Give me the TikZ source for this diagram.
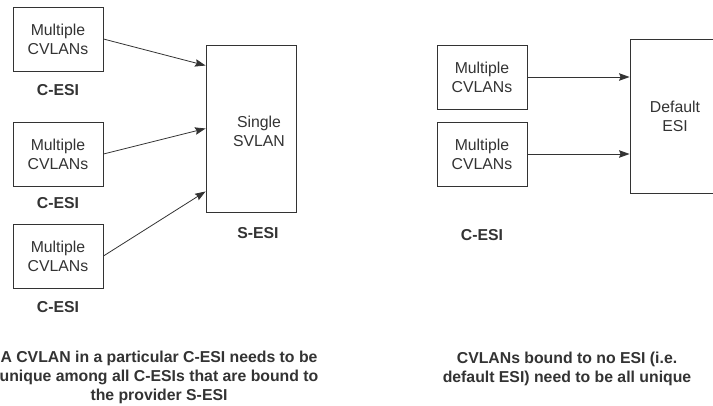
\documentclass[tikz,border=0pt]{standalone}
\usepackage{fontspec}
\setmainfont{Liberation Sans}
\usetikzlibrary{arrows.meta, positioning, calc}
\definecolor{inkgray}{HTML}{333333}
\newcommand{\diafont}{\fontsize{15.8}{19}\selectfont}
\tikzset{
  esibox/.style={draw=inkgray, line width=0.9pt, minimum width=90pt,
    minimum height=64pt, inner sep=0pt, align=center, text=inkgray, font=\diafont},
  esilab/.style={font=\diafont\bfseries, text=inkgray},
  note/.style={font=\diafont\bfseries, text=inkgray, align=center},
  feed/.style={draw=inkgray, line width=0.8pt,
    -{Stealth[length=10.5pt, width=7.5pt, inset=1.5pt]}},
}

\begin{document}
\begin{tikzpicture}[x=1pt, y=-1pt]
\fill[white] (0,0) rectangle (713,406);
\useasboundingbox (0,0) rectangle (713,406);
% left part: C-ESIs into one S-ESI
\node[esibox] (cv1) at (58,39) {Multiple\\CVLANs};
\node[esibox] (cv2) at (58,154) {Multiple\\CVLANs};
\node[esibox] (cv3) at (58,256) {Multiple\\CVLANs};
\node[esilab] (ce1) at (58,90) {C-ESI};
\node[esilab] (ce2) at (58,203) {C-ESI};
\node[esilab] (ce3) at (58,307) {C-ESI};
\node[esibox, minimum height=167pt] (svlan) at (251,128.5) {};
\node[text=inkgray, align=center, font=\diafont] (svlantxt) at (259,131) {Single\\SVLAN};
\node[esilab] (se) at (258,233) {S-ESI};
\draw[feed] (cv1.east) -- ($(svlan.north west)!0.125!(svlan.south west)$);
\draw[feed] (cv2.east) -- (svlan.west);
\draw[feed] (cv3.east) -- ($(svlan.north west)!0.875!(svlan.south west)$);
% right part: default ESI
\node[esibox] (cv4) at (482,77) {Multiple\\CVLANs};
\node[esibox] (cv5) at (482,154) {Multiple\\CVLANs};
\node[esibox, minimum height=154pt] (dflt) at (675,116) {Default\\ESI};
\node[esilab] (ce4) at (482,235) {C-ESI};
\draw[feed] (cv4.east) -- (cv4.east -| dflt.west);
\draw[feed] (cv5.east) -- (cv5.east -| dflt.west);
% notes
\node[note] (leftnote) at (159,377) {A CVLAN in a particular C-ESI needs to be\\unique among all C-ESIs that are bound to\\the provider S-ESI};
\node[note] (rightnote) at (567,369) {CVLANs bound to no ESI (i.e.\\default ESI) need to be all unique};
\end{tikzpicture}
\end{document}
